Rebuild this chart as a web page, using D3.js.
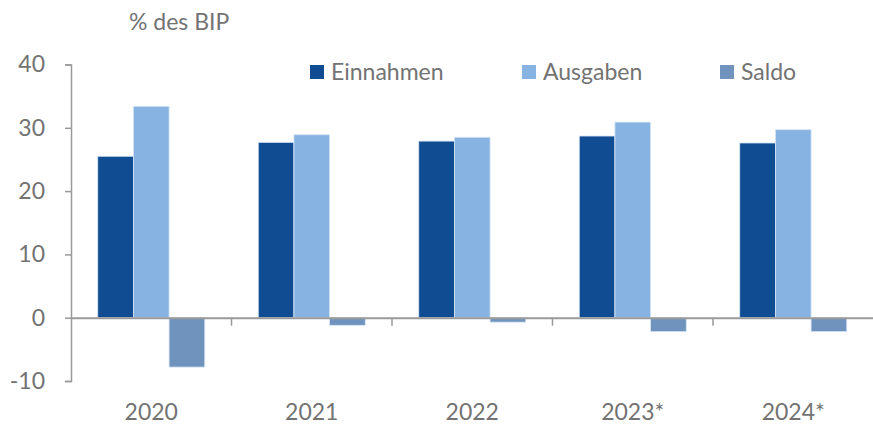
<!DOCTYPE html>
<html>
<head>
<meta charset="utf-8">
<script src="https://cdn.jsdelivr.net/npm/d3@7"></script>
<style>
  body { margin: 0; background: #fff; }
  svg text { font-family: Lato, "Open Sans", sans-serif; fill: #737373; }
</style>
</head>
<body>
<div id="chart"></div>
<script>
// data (% des BIP)
var years = ["2020", "2021", "2022", "2023*", "2024*"];
var seriesNames = ["Einnahmen", "Ausgaben", "Saldo"];
var einnahmen = [25.5, 27.7, 27.9, 28.7, 27.6];
var ausgaben = [33.4, 28.9, 28.5, 30.9, 29.7];
var saldo = [-7.8, -1.2, -0.7, -2.2, -2.2];
var yTicks = [-10, 0, 10, 20, 30, 40];
var colors = ["#0f4c92", "#87b3e2", "#7093be"];

var w = 873, h = 424;
var svg = d3.select("#chart").append("svg")
    .attr("width", w)
    .attr("height", h);

// scales
var x = d3.scaleBand().domain(years).range([71, 873.5]).paddingInner(0).paddingOuter(0);
var xInner = d3.scaleBand().domain(seriesNames).range([0, x.bandwidth()]).paddingInner(0).paddingOuter(0.75);
var y = d3.scaleLinear().domain([-10, 40]).range([381, 64.5]);

var values = [einnahmen, ausgaben, saldo];
var rows = [];
for (var i = 0; i < years.length; i++) {
    for (var s = 0; s < seriesNames.length; s++) {
        rows.push({year: years[i], series: seriesNames[s], value: values[s][i], color: colors[s]});
    }
}

// bars
svg.append("g").selectAll("rect")
    .data(rows)
    .enter().append("rect")
    .attr("x", function(d) { return x(d.year) + xInner(d.series); })
    .attr("width", xInner.bandwidth())
    .attr("y", function(d) { return y(Math.max(0, d.value)); })
    .attr("height", function(d) { return Math.abs(y(d.value) - y(0)); })
    .style("fill", function(d) { return d.color; })
    .style("stroke", "#d6e4f4")
    .style("stroke-width", 0.8);

// y axis (plain hyphen for negatives, like the original)
var yAxis = d3.axisLeft(y).tickValues(yTicks).tickSize(6).tickPadding(20)
    .tickFormat(function(d) { return String(d); });
var gy = svg.append("g")
    .attr("transform", "translate(71,0)")
    .call(yAxis);
gy.select(".domain").attr("stroke", "#9a9a9a").attr("stroke-width", 1.5);
gy.selectAll(".tick line").attr("stroke", "#9a9a9a").attr("stroke-width", 1.5);
gy.selectAll(".tick text").style("font-size", "23px").style("fill", "#737373");

// zero line with category ticks
var xAxis = d3.axisBottom(x).tickSize(0).tickPadding(0).tickFormat("");
var gx = svg.append("g")
    .attr("transform", "translate(0," + y(0) + ")")
    .call(xAxis);
gx.select(".domain").attr("stroke", "#9a9a9a").attr("stroke-width", 2);
gx.selectAll(".tick").remove();

// separators between categories
gx.selectAll("line.sep")
    .data(years.slice(1))
    .enter().append("line")
    .attr("class", "sep")
    .attr("x1", function(d) { return x(d); })
    .attr("x2", function(d) { return x(d); })
    .attr("y1", 0)
    .attr("y2", 8)
    .attr("stroke", "#9a9a9a")
    .attr("stroke-width", 1.5);

// category labels at the bottom
svg.append("g").selectAll("text")
    .data(years)
    .enter().append("text")
    .attr("x", function(d) { return x(d) + x.bandwidth() / 2; })
    .attr("y", 420)
    .attr("text-anchor", "middle")
    .style("font-size", "23px")
    .text(function(d) { return d; });

// unit label
svg.append("text")
    .attr("x", 129)
    .attr("y", 30)
    .style("font-size", "23px")
    .text("% des BIP");

// legend
var legendX = [310, 522, 720];
var legend = svg.append("g").selectAll("g")
    .data(seriesNames)
    .enter().append("g")
    .attr("transform", function(d, i) { return "translate(" + legendX[i] + ",65)"; });
legend.append("rect")
    .attr("width", 14)
    .attr("height", 14)
    .style("fill", function(d, i) { return colors[i]; });
legend.append("text")
    .attr("x", 21)
    .attr("y", 14.5)
    .style("font-size", "23px")
    .text(function(d) { return d; });
</script>
</body>
</html>
